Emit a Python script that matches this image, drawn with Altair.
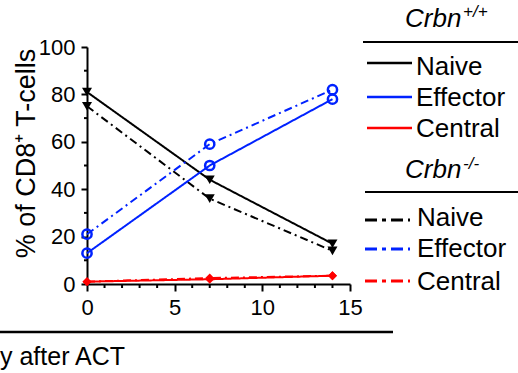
import altair as alt
import pandas as pd

days = [0, 7, 14]
naive_wt = [81, 44, 17]
naive_ko = [75, 36, 14]
eff_wt = [13, 50, 78]
eff_ko = [21, 59, 82]
cen_wt = [1, 2, 3.5]
cen_ko = [1, 2.5, 3.5]

x_major = [0, 5, 10, 15]
x_minor = [1, 2, 3, 4, 6, 7, 8, 9, 11, 12, 13, 14]
y_major = [0, 20, 40, 60, 80, 100]
y_minor = [10, 30, 50, 70, 90]

cell_types = ["Naive", "Effector", "Central"]
colors = ["#000000", "#0022ff", "#ff0000"]
genotypes = ["WT", "KO"]

rows = []
for ct, wt, ko in [("Naive", naive_wt, naive_ko), ("Effector", eff_wt, eff_ko), ("Central", cen_wt, cen_ko)]:
    for g, vals in (("WT", wt), ("KO", ko)):
        for d, v in zip(days, vals):
            rows.append({"day": d, "pct": v, "cell": ct, "geno": g, "series": ct + g})
df = pd.DataFrame(rows)

FONT = "Liberation Sans"

x_enc = alt.X("day:Q", scale=alt.Scale(domain=[0, 15], nice=False, zero=False),
              axis=alt.Axis(values=x_major, title=None, grid=False, tickSize=7,
                            labelOverlap=False, labelFlush=False,
                            labelPadding=6, labelFontSize=22, labelFont=FONT, labelColor="black",
                            domainColor="black", domainWidth=2, tickColor="black", tickWidth=2))
y_enc = alt.Y("pct:Q", scale=alt.Scale(domain=[0, 100], nice=False),
              axis=alt.Axis(values=y_major, title="% of CD8\u207a T-cells", grid=False, tickSize=6,
                            labelOverlap=False, labelFlush=False,
                            labelPadding=6, labelFontSize=22, labelFont=FONT, labelColor="black",
                            domainColor="black", domainWidth=2, tickColor="black", tickWidth=2,
                            titleFont=FONT, titleFontSize=27, titleFontWeight="normal", titleColor="black",
                            titleAngle=270, titleX=-53, titleY=106, titleBaseline="alphabetic", titleAlign="center"))

color_scale = alt.Scale(domain=cell_types, range=colors)
dash_scale = alt.Scale(domain=genotypes, range=[[1, 0], [8, 4, 2, 4]])

base = alt.Chart(df)
lines = base.mark_line(strokeWidth=2, clip=False).encode(
    x=x_enc, y=y_enc,
    color=alt.Color("cell:N", scale=color_scale, legend=None),
    strokeDash=alt.StrokeDash("geno:N", scale=dash_scale, legend=None),
    detail="series:N",
)
naive_pts = base.transform_filter("datum.cell === 'Naive'").mark_point(
    shape="triangle-down", filled=True, color="black", size=100, opacity=1, clip=False
).encode(x="day:Q", y="pct:Q")
eff_pts = base.transform_filter("datum.cell === 'Effector'").mark_point(
    shape="circle", filled=False, color="#0022ff", strokeWidth=2.5, size=85, opacity=1, clip=False
).encode(x="day:Q", y="pct:Q")
cen_pts = base.transform_filter("datum.cell === 'Central'").mark_point(
    shape="diamond", filled=True, color="#ff0000", size=80, opacity=1, clip=False
).encode(x="day:Q", y="pct:Q")

xminor = alt.Chart(pd.DataFrame({"day": x_minor})).mark_rule(color="black", strokeWidth=2).encode(
    x="day:Q", y=alt.value(237), y2=alt.value(241))
yminor = alt.Chart(pd.DataFrame({"pct": y_minor})).mark_rule(color="black", strokeWidth=2).encode(
    y="pct:Q", x=alt.value(-3), x2=alt.value(0))

one = alt.Data(values=[{"k": 1}])


def text(t, x, y, size=24, style="normal", align="left"):
    return alt.Chart(one).mark_text(text=t, font=FONT, fontSize=size, fontStyle=style, align=align,
                                    baseline="alphabetic", color="black").encode(
        x=alt.value(x), y=alt.value(y))


def rule(x1, x2, y, color="black", width=2, dash=None):
    kw = dict(color=color, strokeWidth=width)
    if dash:
        kw["strokeDash"] = dash
    return alt.Chart(one).mark_rule(**kw).encode(x=alt.value(x1), x2=alt.value(x2), y=alt.value(y))


LFS = 26
legend_layers = []
# header WT
legend_layers += [text("Crbn", 318, -20, 26, "italic"), text("+/+", 376, -30, 17, "italic"),
                  rule(276, 432, -5)]
wt_line_y = [16, 50, 81]
wt_text_y = [28, 59, 90]
for ct, col, ly, ty in zip(cell_types, colors, wt_line_y, wt_text_y):
    legend_layers += [rule(280, 325, ly, col, 2.5), text(ct, 329, ty, LFS)]
# header KO
legend_layers += [text("Crbn", 318, 131, 26, "italic"), text("-/-", 376, 122, 17, "italic"),
                  rule(278, 432, 145)]
ko_line_y = [173, 202, 234]
ko_text_y = [179, 210, 243]
for ct, col, ly, ty in zip(cell_types, colors, ko_line_y, ko_text_y):
    legend_layers += [rule(278, 323, ly, col, 3, [12, 5, 4, 5]), text(ct, 330, ty, LFS)]

# x-axis title (cropped in the original)
bottom = [rule(-87, 306, 285, "black", 2.5), text("y after ACT", -87, 318, 25)]

chart = alt.layer(lines, naive_pts, eff_pts, cen_pts, xminor, yminor, *legend_layers, *bottom).properties(
    width=263, height=237,
    padding={"left": 87, "top": 47, "right": 168, "bottom": 89},
    autosize=alt.AutoSizeParams(type="none"),
    background="white",
).configure_view(stroke=None)

chart.save("out.html", embed_options={"renderer": "svg", "actions": False})
